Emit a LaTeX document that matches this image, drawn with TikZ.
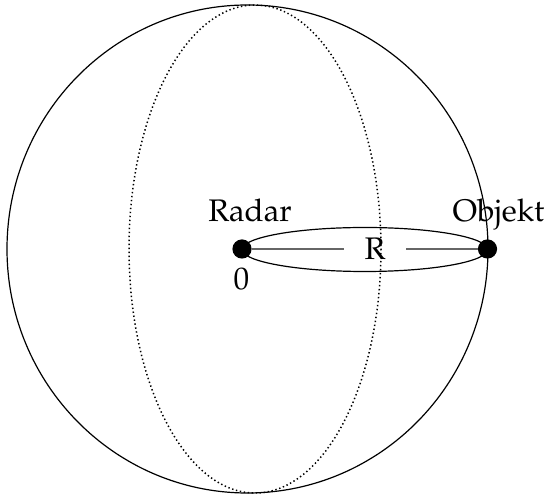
\documentclass[tikz,border=0pt]{standalone}
\usepackage[T1]{fontenc}
\usepackage{mathpazo}
\begin{document}
\begin{tikzpicture}[x=0.5pt,y=-0.5pt,
  outline/.style={draw=black,line width=0.6pt},
  dotline/.style={draw=black,line width=0.75pt,dash pattern=on 0.7pt off 1.3pt},
  ptdot/.style={circle,fill=black,inner sep=0pt,minimum size=9.6pt},
  lbl/.style={font=\fontsize{15.6}{18}\selectfont,inner sep=0pt},
  rline/.style={draw=black!60,line width=0.7pt}]
\useasboundingbox (0,0) rectangle (547,496);
\coordinate (C) at (247.5,249);
\coordinate (D) at (255,249);
\coordinate (E) at (364.8,249.5);
\draw[outline] (C) ellipse [x radius=240.5, y radius=244];
\draw[dotline] (D) ellipse [x radius=126, y radius=244];
\draw[outline] (E) ellipse [x radius=122.7, y radius=22];
\node[ptdot] (radar) at (242,249) {};
\node[ptdot] (objekt) at (487.5,249) {};
\node[lbl,anchor=base] (radarlbl) at (250,221.7) {Radar};
\node[lbl,anchor=base] (objektlbl) at (498.5,221.5) {Objekt};
\node[lbl,anchor=base] (zero) at (241.5,290) {0};
\node[lbl,minimum width=31pt,minimum height=12pt] (R) at (375,249) {R};
\draw[rline] (radar) -- (R);
\draw[rline] (R) -- (objekt);
\end{tikzpicture}
\end{document}
